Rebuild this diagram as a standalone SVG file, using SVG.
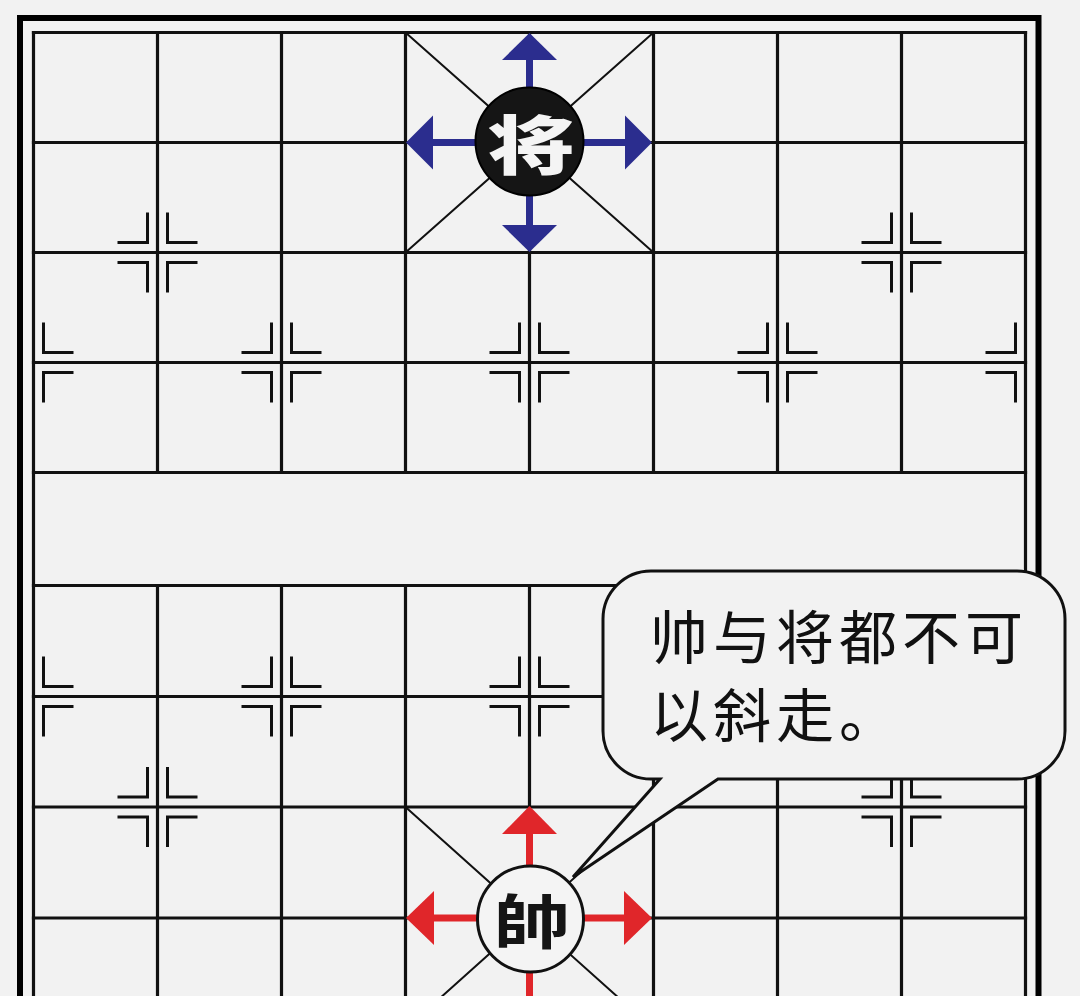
<svg xmlns="http://www.w3.org/2000/svg" xmlns:xlink="http://www.w3.org/1999/xlink" width="1080" height="996" viewBox="0 0 1080 996">
<style>
.grid{stroke:#111;stroke-width:3.2;fill:none;stroke-linecap:square}
.outer{stroke:#000;stroke-width:6;fill:none}
.diag{stroke:#111;stroke-width:2;fill:none}
.star{stroke:#111;stroke-width:3;fill:none}
.blue{fill:#2b2d8e;stroke:none}
.blueS{stroke:#2b2d8e;stroke-width:7;fill:none}
.red{fill:#e0262a;stroke:none}
.redS{stroke:#e0262a;stroke-width:7;fill:none}
.piece{font-family:"Noto Sans CJK SC","Noto Sans CJK TC",sans-serif;text-anchor:middle;dominant-baseline:central}
.bubbleText{font-family:"Noto Sans CJK SC",sans-serif;font-size:58px;font-weight:400;fill:#111;letter-spacing:5px}
</style>
<defs>
<path id="starR" d="M10,-40 V-10 H40 M10,40 V10 H40"/>
<path id="starL" d="M-10,-40 V-10 H-40 M-10,40 V10 H-40"/>
</defs>
<rect x="0" y="0" width="1080" height="996" fill="#f2f2f2"/>
<g id="board">
<path class="outer" d="M20,1010 V18 H1038.5 V1010"/>
<path class="grid" d="M33.5,32.5 H1025.5 M33.5,142.5 H1025.5 M33.5,252.5 H1025.5 M33.5,362.5 H1025.5 M33.5,472.5 H1025.5 M33.5,585.5 H1025.5 M33.5,696.5 H1025.5 M33.5,807 H1025.5 M33.5,918 H1025.5"/>
<path class="grid" d="M33.5,32.5 V1010 M1025.5,32.5 V1010 M157.5,32.5 V472.5 M281.5,32.5 V472.5 M405.5,32.5 V472.5 M529.5,32.5 V472.5 M653.5,32.5 V472.5 M777.5,32.5 V472.5 M901.5,32.5 V472.5 M157.5,585.5 V1010 M281.5,585.5 V1010 M405.5,585.5 V1010 M529.5,585.5 V1010 M653.5,585.5 V1010 M777.5,585.5 V1010 M901.5,585.5 V1010"/>
<path class="diag" d="M405.5,32.5 L653.5,252.5 M653.5,32.5 L405.5,252.5 M405.5,807 L653.5,1029 M653.5,807 L405.5,1029"/>
<g class="star">
<use xlink:href="#starL" x="157.5" y="252.5"/><use xlink:href="#starR" x="157.5" y="252.5"/>
<use xlink:href="#starL" x="901.5" y="252.5"/><use xlink:href="#starR" x="901.5" y="252.5"/>
<use xlink:href="#starR" x="33.5" y="362.5"/>
<use xlink:href="#starL" x="281.5" y="362.5"/><use xlink:href="#starR" x="281.5" y="362.5"/>
<use xlink:href="#starL" x="529.5" y="362.5"/><use xlink:href="#starR" x="529.5" y="362.5"/>
<use xlink:href="#starL" x="777.5" y="362.5"/><use xlink:href="#starR" x="777.5" y="362.5"/>
<use xlink:href="#starL" x="1025.5" y="362.5"/>
<use xlink:href="#starR" x="33.5" y="696.5"/>
<use xlink:href="#starL" x="281.5" y="696.5"/><use xlink:href="#starR" x="281.5" y="696.5"/>
<use xlink:href="#starL" x="529.5" y="696.5"/><use xlink:href="#starR" x="529.5" y="696.5"/>
<use xlink:href="#starL" x="777.5" y="696.5"/><use xlink:href="#starR" x="777.5" y="696.5"/>
<use xlink:href="#starL" x="1025.5" y="696.5"/>
<use xlink:href="#starL" x="157.5" y="807"/><use xlink:href="#starR" x="157.5" y="807"/>
<use xlink:href="#starL" x="901.5" y="807"/><use xlink:href="#starR" x="901.5" y="807"/>
</g>
</g>
<g id="connectors">
<g id="black-arrows">
<path class="blueS" d="M529.5,90 V58 M529.5,195 V227 M477,142.5 H431 M582,142.5 H627"/>
<polygon class="blue" points="529.5,33 502,60 557,60"/>
<polygon class="blue" points="529.5,252 502,225 557,225"/>
<polygon class="blue" points="406,142.5 433,115.5 433,169.5"/>
<polygon class="blue" points="652,142.5 625,115.5 625,169.5"/>
</g>
<g id="red-arrows">
<path class="redS" d="M529.5,866 V832 M529.5,971 V1000 M477,918 H432 M582,918 H626"/>
<polygon class="red" points="529.5,806 502,834 557,834"/>
<polygon class="red" points="406,918 434,891 434,945"/>
<polygon class="red" points="652,918 624,891 624,945"/>
</g>
</g>
<g id="black-general">
<circle cx="529.5" cy="141.5" r="54" fill="#151515" stroke="#000" stroke-width="2"/>
<text class="piece" x="0" y="0" font-size="74" font-weight="900" fill="#f4f4f4" transform="translate(531,141) scale(1.18,0.86)">将</text>
</g>
<g id="red-general">
<circle cx="530.5" cy="919" r="53" fill="#f4f4f4" stroke="#111" stroke-width="3"/>
<text class="piece" x="0" y="0" font-size="70" font-weight="700" fill="#151515" transform="translate(532,918) scale(1.1,0.85)">帥</text>
</g>
<g id="speech-bubble">
<path d="M653,571 H1017 A48,48 0 0 1 1065,619 V731 A48,48 0 0 1 1017,779 H718 L573,877 L660,779 H651 A48,48 0 0 1 603,731 V619 A48,48 0 0 1 651,571 Z" fill="#f2f2f2" stroke="#111" stroke-width="3" stroke-linejoin="miter"/>
<text class="bubbleText" x="650" y="659">帅与将都不可</text>
<text class="bubbleText" x="650" y="737">以斜走。</text>
</g>
</svg>
